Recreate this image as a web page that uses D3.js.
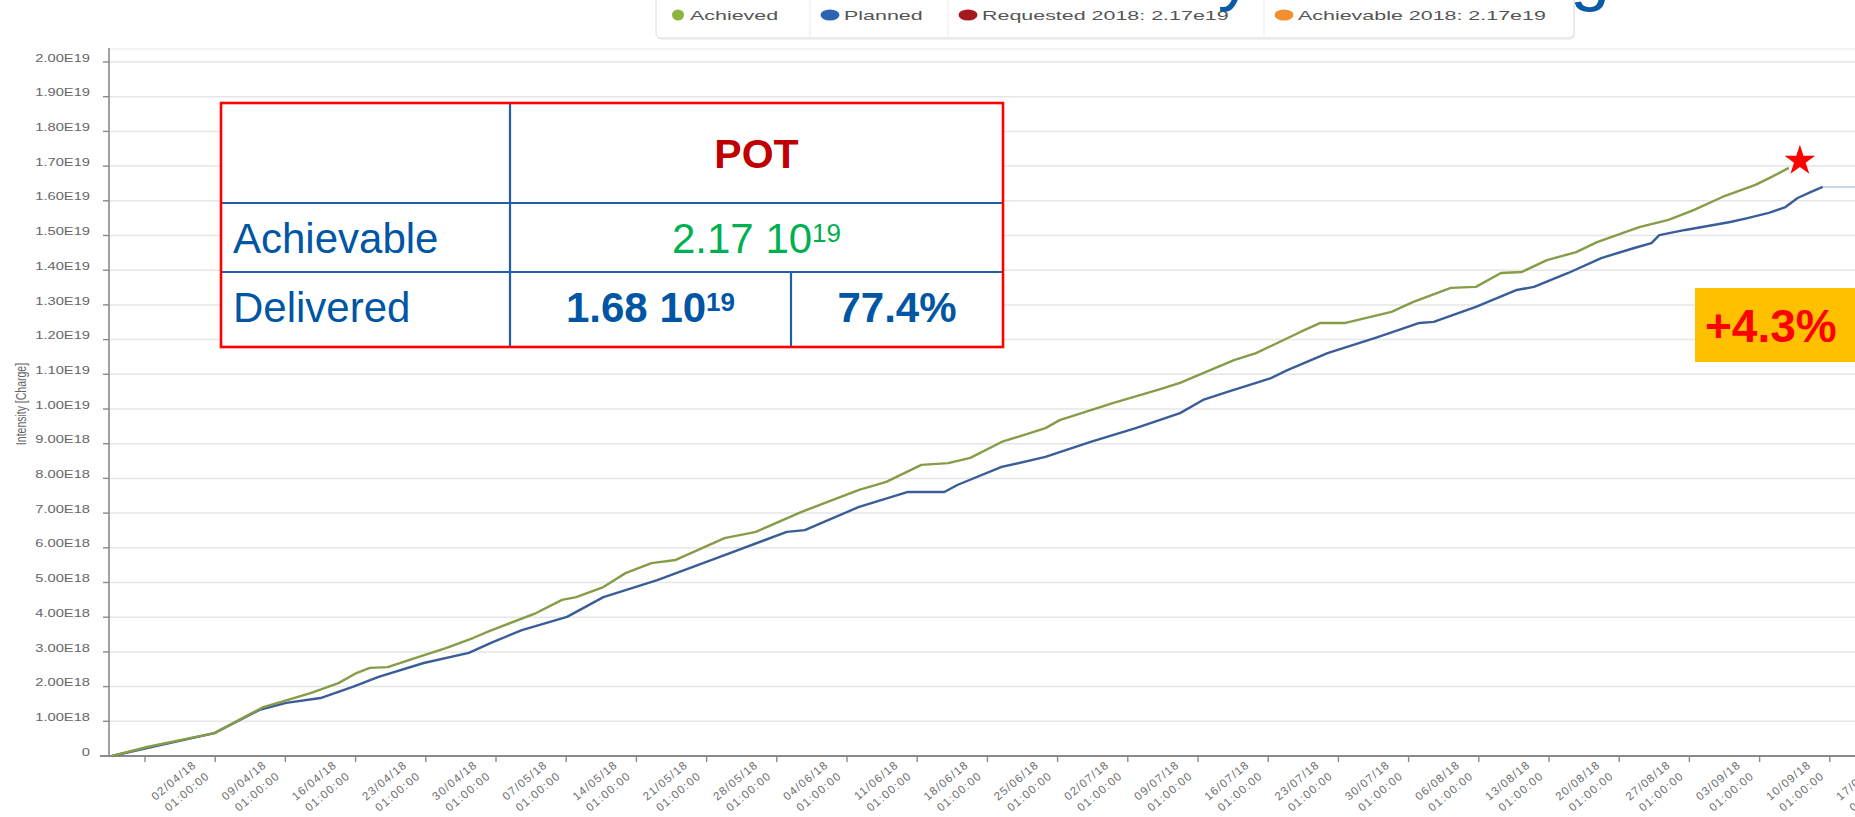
<!DOCTYPE html>
<html>
<head>
<meta charset="utf-8">
<script src="https://cdn.jsdelivr.net/npm/d3@7"></script>
<style>
  html, body { margin: 0; padding: 0; background: #fff; overflow: hidden; }
  svg { display: block; }
  text { font-family: "Liberation Sans", Arial, sans-serif; }
</style>
</head>
<body>
<svg id="chart" width="1855" height="817"></svg>
<script>
// cumulative intensity, in units of 1e18 charges
const achievedDates = [
  "2018-03-22 17:00", "2018-03-26 05:00", "2018-03-31 02:00", "2018-04-01 22:00", "2018-04-06 19:00",
  "2018-04-08 14:00", "2018-04-11 14:00", "2018-04-14 07:00", "2018-04-16 02:00", "2018-04-17 10:00",
  "2018-04-19 05:00", "2018-04-21 22:00", "2018-04-25 00:00", "2018-04-27 17:00", "2018-04-29 02:00",
  "2018-04-30 10:00", "2018-05-04 00:00", "2018-05-06 14:00", "2018-05-08 00:00", "2018-05-10 17:00",
  "2018-05-12 22:00", "2018-05-15 12:00", "2018-05-17 22:00", "2018-05-22 19:00", "2018-05-25 22:00",
  "2018-05-30 10:00", "2018-06-05 05:00", "2018-06-07 22:00", "2018-06-11 10:00", "2018-06-14 02:00",
  "2018-06-16 07:00", "2018-06-19 10:00", "2018-06-23 19:00", "2018-06-25 05:00", "2018-06-30 12:00",
  "2018-07-05 00:00", "2018-07-07 05:00", "2018-07-12 14:00", "2018-07-14 19:00", "2018-07-19 05:00",
  "2018-07-21 05:00", "2018-07-23 17:00", "2018-07-28 07:00", "2018-07-30 10:00", "2018-08-03 05:00",
  "2018-08-05 17:00", "2018-08-08 05:00", "2018-08-10 07:00", "2018-08-12 19:00", "2018-08-15 17:00",
  "2018-08-17 19:00", "2018-08-22 00:00", "2018-08-24 22:00", "2018-08-27 10:00", "2018-08-30 07:00",
  "2018-09-02 14:00", "2018-09-04 05:00", "2018-09-05 22:00"
];
const achievedValues = [
  0, 0.26, 0.55, 0.66, 1.41,
  1.56, 1.82, 2.10, 2.39, 2.54,
  2.56, 2.82, 3.11, 3.40, 3.57,
  3.72, 4.12, 4.50, 4.58, 4.87,
  5.27, 5.56, 5.65, 6.28, 6.46,
  7.03, 7.67, 7.90, 8.39, 8.44,
  8.59, 9.05, 9.45, 9.68, 10.17,
  10.55, 10.75, 11.41, 11.61, 12.22,
  12.48, 12.48, 12.80, 13.08, 13.49,
  13.52, 13.92, 13.95, 14.29, 14.52,
  14.81, 15.24, 15.45, 15.73, 16.11,
  16.46, 16.69, 16.95
];

const plannedDates = [
  "2018-03-22 17:00", "2018-03-26 05:00", "2018-04-01 22:00", "2018-04-06 10:00", "2018-04-09 02:00",
  "2018-04-12 12:00", "2018-04-15 17:00", "2018-04-18 07:00", "2018-04-22 19:00", "2018-04-27 07:00",
  "2018-04-29 12:00", "2018-05-02 14:00", "2018-05-07 02:00", "2018-05-10 17:00", "2018-05-16 02:00",
  "2018-05-22 19:00", "2018-05-29 00:00", "2018-05-30 19:00", "2018-06-05 05:00", "2018-06-10 02:00",
  "2018-06-13 17:00", "2018-06-15 00:00", "2018-06-19 10:00", "2018-06-23 19:00", "2018-06-28 07:00",
  "2018-07-02 19:00", "2018-07-07 05:00", "2018-07-09 12:00", "2018-07-11 17:00", "2018-07-16 05:00",
  "2018-07-17 22:00", "2018-07-21 22:00", "2018-07-26 22:00", "2018-07-31 02:00", "2018-08-01 12:00",
  "2018-08-05 17:00", "2018-08-09 19:00", "2018-08-11 12:00", "2018-08-14 22:00", "2018-08-18 05:00",
  "2018-08-21 12:00", "2018-08-23 05:00", "2018-08-24 00:00", "2018-08-26 14:00", "2018-08-31 02:00",
  "2018-09-01 19:00", "2018-09-03 22:00", "2018-09-05 14:00", "2018-09-06 19:00", "2018-09-08 02:00",
  "2018-09-09 07:00"
];
const plannedValues = [
  0, 0.23, 0.66, 1.33, 1.53,
  1.67, 1.99, 2.28, 2.68, 2.97,
  3.26, 3.63, 4.01, 4.58, 5.07,
  5.79, 6.46, 6.51, 7.18, 7.61,
  7.61, 7.81, 8.33, 8.62, 9.05,
  9.45, 9.88, 10.26, 10.47, 10.88,
  11.12, 11.61, 12.07, 12.48, 12.51,
  12.94, 13.43, 13.52, 13.92, 14.35,
  14.64, 14.78, 15.01, 15.16, 15.39,
  15.50, 15.65, 15.82, 16.08, 16.25,
  16.40
];

const tickDates = [
  "2018-03-26", "2018-04-02", "2018-04-09", "2018-04-16", "2018-04-23", "2018-04-30", "2018-05-07",
  "2018-05-14", "2018-05-21", "2018-05-28", "2018-06-04", "2018-06-11", "2018-06-18", "2018-06-25",
  "2018-07-02", "2018-07-09", "2018-07-16", "2018-07-23", "2018-07-30", "2018-08-06", "2018-08-13",
  "2018-08-20", "2018-08-27", "2018-09-03", "2018-09-10", "2018-09-17"
];
const tickTime = "01:00:00";
const yTicks = [0, 1, 2, 3, 4, 5, 6, 7, 8, 9, 10, 11, 12, 13, 14, 15, 16, 17, 18, 19, 20];

const legendNames = ["Achieved", "Planned", "Requested 2018: 2.17e19", "Achievable 2018: 2.17e19"];
const legendColors = ["#8db53c", "#2c63b3", "#a3191f", "#f0902f"];

const tableHeader = "POT";
const achievableRow = { label: "Achievable", mantissa: "2.17 10", exponent: "19" };
const deliveredRow = { label: "Delivered", mantissa: "1.68 10", exponent: "19", share: "77.4%" };
const gainLabel = "+4.3%";
const titleText = "POT Delivery Monitoring";

const parseTime = d3.utcParse("%Y-%m-%d %H:%M");
const parseDay = d3.utcParse("%Y-%m-%d");
const fmtDay = d3.utcFormat("%d/%m/%y");

const achieved = achievedDates.map((d, i) => ({ date: parseTime(d), value: achievedValues[i] }));
const planned = plannedDates.map((d, i) => ({ date: parseTime(d), value: plannedValues[i] }));
const ticks = tickDates.map(parseDay);

const svg = d3.select('#chart');

const x = d3.scaleUtc()
  .domain([ticks[0], ticks[ticks.length - 1]])
  .range([145, 1900]);
const y = d3.scaleLinear()
  .domain([0, 20])
  .range([756, 62]);

const axisLeft = 109;
const axisY = 756;
const rightEdge = 1855;

// plot area top border + grid
svg.append('line')
  .attr('x1', axisLeft).attr('x2', rightEdge)
  .attr('y1', 49).attr('y2', 49)
  .attr('stroke', '#f0f0f0').attr('stroke-width', 1.5);

svg.append('g')
  .selectAll('line')
  .data(yTicks.filter(v => v > 0))
  .join('line')
  .attr('x1', axisLeft).attr('x2', rightEdge)
  .attr('y1', d => y(d)).attr('y2', d => y(d))
  .attr('stroke', '#e6e6e6')
  .attr('stroke-width', 1.5);

// y axis
svg.append('line')
  .attr('x1', axisLeft).attr('x2', axisLeft)
  .attr('y1', 48).attr('y2', axisY)
  .attr('stroke', '#8a8a8a').attr('stroke-width', 1.6);

svg.append('g')
  .selectAll('line')
  .data(yTicks)
  .join('line')
  .attr('x1', axisLeft - 6).attr('x2', axisLeft)
  .attr('y1', d => y(d)).attr('y2', d => y(d))
  .attr('stroke', '#8a8a8a').attr('stroke-width', 1.4);

const fmtY = v => v === 0 ? '0' : v < 10 ? v.toFixed(2) + 'E18' : (v / 10).toFixed(2) + 'E19';

svg.append('g')
  .selectAll('text')
  .data(yTicks)
  .join('text')
  .attr('transform', d => `translate(90,${y(d) - 4}) scale(1.4,1)`)
  .attr('text-anchor', 'end')
  .attr('dy', '0.35em')
  .attr('fill', '#666')
  .style('font-size', '10.5px')
  .text(fmtY);

svg.append('text')
  .attr('transform', 'translate(26,404) scale(1.4,1) rotate(-90)')
  .attr('text-anchor', 'middle')
  .attr('fill', '#666')
  .style('font-size', '10.5px')
  .text('Intensity [Charge]');

// x axis
svg.append('line')
  .attr('x1', 100).attr('x2', rightEdge)
  .attr('y1', axisY).attr('y2', axisY)
  .attr('stroke', '#8a8a8a').attr('stroke-width', 2);

svg.append('g')
  .selectAll('line')
  .data(ticks)
  .join('line')
  .attr('x1', d => x(d)).attr('x2', d => x(d))
  .attr('y1', axisY).attr('y2', axisY + 6)
  .attr('stroke', '#8a8a8a').attr('stroke-width', 1.4);

const xLabels = svg.append('g')
  .selectAll('g')
  .data(ticks.slice(1))
  .join('g')
  .attr('transform', d => `translate(${x(d) - 18},${axisY + 10}) rotate(-40)`)
  .attr('fill', '#6e6e6e')
  .style('font-size', '11.5px')
  .style('letter-spacing', '1.2px');

xLabels.append('text')
  .attr('text-anchor', 'end')
  .text(d => fmtDay(d));
xLabels.append('text')
  .attr('text-anchor', 'end')
  .attr('x', 3).attr('y', 17)
  .text(tickTime);

// series
const line = d3.line()
  .x(d => x(d.date))
  .y(d => y(d.value));

const lastPlanned = planned[planned.length - 1];
svg.append('line')
  .attr('x1', x(lastPlanned.date)).attr('x2', rightEdge)
  .attr('y1', y(lastPlanned.value)).attr('y2', y(lastPlanned.value))
  .attr('stroke', '#c9d5ea').attr('stroke-width', 2);

svg.append('path')
  .datum(planned)
  .attr('d', line)
  .attr('fill', 'none')
  .attr('stroke', '#3a5d98')
  .attr('stroke-width', 2.4)
  .attr('stroke-linejoin', 'round');

svg.append('path')
  .datum(achieved)
  .attr('d', line)
  .attr('fill', 'none')
  .attr('stroke', '#869c48')
  .attr('stroke-width', 2.4)
  .attr('stroke-linejoin', 'round');

const lastAchieved = achieved[achieved.length - 1];
svg.append('path')
  .attr('d', d3.symbol(d3.symbolStar, 290)())
  .attr('transform', `translate(${x(lastAchieved.date) + 11},${y(lastAchieved.value) - 7})`)
  .attr('fill', '#ff0000');

// legend
const legend = svg.append('g');
legend.append('rect')
  .attr('x', 657).attr('y', -10)
  .attr('width', 918).attr('height', 50)
  .attr('rx', 5)
  .attr('fill', '#f2f2f2');
legend.append('rect')
  .attr('x', 656).attr('y', -10)
  .attr('width', 918).attr('height', 48)
  .attr('rx', 5)
  .attr('fill', '#fff')
  .attr('stroke', '#dcdcdc');

const legendX = [656, 810, 948, 1264];
legend.selectAll('line.div')
  .data(legendX.slice(1))
  .join('line')
  .attr('x1', d => d).attr('x2', d => d)
  .attr('y1', 0).attr('y2', 38)
  .attr('stroke', '#ececec');

const items = legend.selectAll('g.item')
  .data(legendNames)
  .join('g')
  .attr('transform', (d, i) => `translate(${legendX[i]},0)`);

items.append('ellipse')
  .attr('cx', (d, i) => i === 0 ? 22 : 20)
  .attr('cy', 15)
  .attr('rx', (d, i) => i === 0 ? 6 : 9.5)
  .attr('ry', 5.5)
  .attr('fill', (d, i) => legendColors[i]);

items.append('text')
  .attr('transform', 'translate(34,20) scale(1.65,1)')
  .attr('fill', '#555')
  .style('font-size', '13px')
  .text(d => d);

// slide title (mostly cut off at the top)
svg.append('text')
  .attr('x', 1610).attr('y', -3)
  .attr('text-anchor', 'end')
  .attr('fill', '#0a5aa8')
  .style('font-size', '72px')
  .text(titleText);

// summary table
const table = svg.append('g');
const tLeft = 221, tRight = 1003, tTop = 103, tBottom = 347;
const colSplit = 510, subSplit = 791, row1 = 203, row2 = 272;

table.append('rect')
  .attr('x', tLeft).attr('y', tTop)
  .attr('width', tRight - tLeft).attr('height', tBottom - tTop)
  .attr('fill', '#fff');

const blue = '#1f5ea8';
[[colSplit, tTop, colSplit, tBottom], [tLeft, row1, tRight, row1], [tLeft, row2, tRight, row2],
 [subSplit, row2, subSplit, tBottom]].forEach(([x1, y1, x2, y2]) => {
  table.append('line')
    .attr('x1', x1).attr('y1', y1).attr('x2', x2).attr('y2', y2)
    .attr('stroke', blue).attr('stroke-width', 2.2);
});

table.append('rect')
  .attr('x', tLeft).attr('y', tTop)
  .attr('width', tRight - tLeft).attr('height', tBottom - tTop)
  .attr('fill', 'none')
  .attr('stroke', '#ff0000')
  .attr('stroke-width', 2.6);

table.append('text')
  .attr('x', (colSplit + tRight) / 2).attr('y', 168)
  .attr('text-anchor', 'middle')
  .attr('fill', '#c00000')
  .style('font-size', '41px')
  .style('font-weight', 'bold')
  .text(tableHeader);

[[achievableRow, 253], [deliveredRow, 322]].forEach(([row, base]) => {
  table.append('text')
    .attr('x', tLeft + 12).attr('y', base)
    .attr('fill', '#0055a5')
    .style('font-size', '42px')
    .text(row.label);
});

function powerText(cx, base, row, color, weight) {
  const t = table.append('text')
    .attr('x', cx).attr('y', base)
    .attr('text-anchor', 'middle')
    .attr('fill', color)
    .style('font-size', '42px')
    .style('font-weight', weight);
  t.append('tspan').text(row.mantissa);
  t.append('tspan')
    .attr('dy', -11)
    .style('font-size', '26px')
    .text(row.exponent);
}

powerText((colSplit + tRight) / 2, 253, achievableRow, '#00b050', 'normal');
powerText((colSplit + subSplit) / 2, 322, deliveredRow, '#0055a5', 'bold');

table.append('text')
  .attr('x', (subSplit + tRight) / 2).attr('y', 322)
  .attr('text-anchor', 'middle')
  .attr('fill', '#0055a5')
  .style('font-size', '42px')
  .style('font-weight', 'bold')
  .text(deliveredRow.share);

// gain badge
svg.append('rect')
  .attr('x', 1695).attr('y', 288)
  .attr('width', rightEdge - 1695).attr('height', 74)
  .attr('fill', '#ffc000');
svg.append('text')
  .attr('x', 1705).attr('y', 342)
  .attr('fill', '#ff0000')
  .style('font-size', '46px')
  .style('font-weight', 'bold')
  .text(gainLabel);
</script>
</body>
</html>
